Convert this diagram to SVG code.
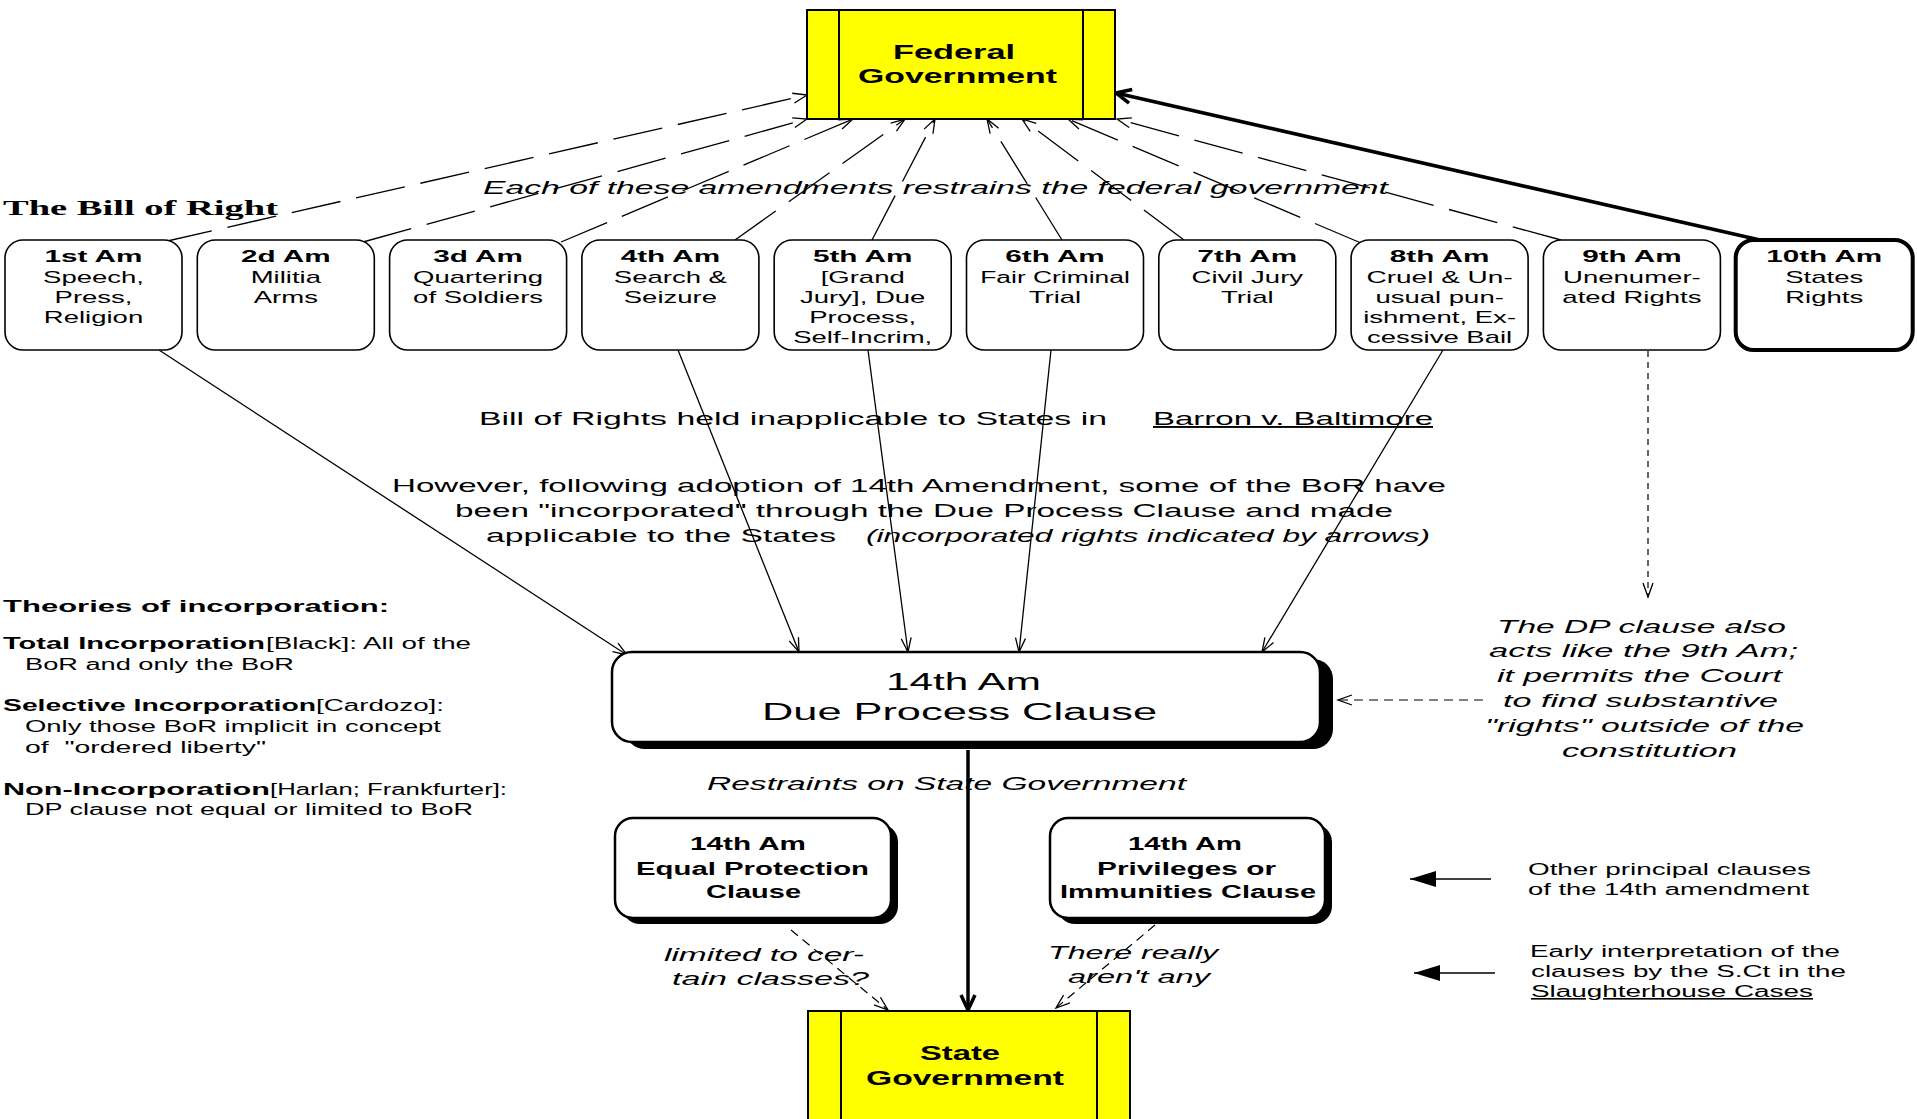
<svg xmlns="http://www.w3.org/2000/svg" width="1917" height="1119" viewBox="0 0 1917 1119">
<style>
  text { font-family: "Liberation Sans", Arial, sans-serif; fill:#000; }
  .c { text-anchor: middle; }
  .b { font-weight: bold; }
  .i { font-style: italic; }
  .am { fill:#fff; stroke:#000; stroke-width:1.6; }
  .am10 { fill:#fff; stroke:#000; stroke-width:4; }
  .gov { fill:#ffff00; stroke:#000; stroke-width:2; }
  .gl { stroke:#000; stroke-width:2; }
  .shadow { fill:#000; }
  .cl { fill:#fff; stroke:#000; stroke-width:2.5; }
  .ttl { font-size:16.5px; font-weight:bold; }
  .bd { font-size:16px; }
  .dfed { stroke:#000; stroke-width:1.3; fill:none; stroke-dasharray:50 16; marker-end:url(#open); }
  .inc { stroke:#000; stroke-width:1.3; fill:none; marker-end:url(#open); }
  .dot { stroke:#000; stroke-width:1.2; fill:none; stroke-dasharray:6 5; marker-end:url(#open); }
  .dsh { stroke:#000; stroke-width:1.2; fill:none; stroke-dasharray:9 6; marker-end:url(#open); }
  .thick { stroke:#000; stroke-width:3.5; fill:none; marker-end:url(#thickv); }
  .leg { stroke:#000; stroke-width:1.5; fill:none; marker-end:url(#tri); }
</style>
<defs>
  <marker id="open" markerUnits="userSpaceOnUse" markerWidth="16" markerHeight="12" refX="14" refY="5" orient="auto" overflow="visible">
    <path d="M0,0 L14,5 L0,10" fill="none" stroke="#000" stroke-width="1.3"/>
  </marker>
  <marker id="thickv" markerUnits="userSpaceOnUse" markerWidth="20" markerHeight="16" refX="15" refY="7" orient="auto" overflow="visible">
    <path d="M0,0 L15,7 L0,14" fill="none" stroke="#000" stroke-width="3.5"/>
  </marker>
  <marker id="tri" markerUnits="userSpaceOnUse" markerWidth="28" markerHeight="18" refX="26" refY="8" orient="auto" overflow="visible">
    <path d="M0,0 L26,8 L0,16 Z" fill="#000"/>
  </marker>
</defs>

<g id="connectors">
  <line class="dfed" x1="163" y1="242" x2="807" y2="95"/>
  <line class="dfed" x1="363" y1="242" x2="807" y2="119"/>
  <line class="dfed" x1="561" y1="242" x2="853" y2="119"/>
  <line class="dfed" x1="735" y1="240" x2="905" y2="119"/>
  <line class="dfed" x1="872" y1="240" x2="935" y2="119"/>
  <line class="dfed" x1="1062" y1="240" x2="987" y2="119"/>
  <line class="dfed" x1="1184" y1="240" x2="1022" y2="119"/>
  <line class="dfed" x1="1361" y1="243" x2="1068" y2="119"/>
  <line class="dfed" x1="1561" y1="240" x2="1117" y2="119"/>
  <line class="thick" x1="1760" y1="240" x2="1116" y2="93"/>
  <line class="inc" x1="159" y1="350" x2="627" y2="655"/>
  <line class="inc" x1="678" y1="350" x2="799" y2="652"/>
  <line class="inc" x1="868" y1="350" x2="908" y2="652"/>
  <line class="inc" x1="1051" y1="350" x2="1019" y2="652"/>
  <line class="inc" x1="1443" y1="350" x2="1262" y2="652"/>
  <line class="dot" x1="1648" y1="351" x2="1648" y2="597"/>
  <line class="dsh" x1="1483" y1="700" x2="1338" y2="700"/>
  <line class="thick" x1="968" y1="750" x2="968" y2="1010"/>
  <line class="dsh" x1="791" y1="930" x2="888" y2="1010"/>
  <line class="dsh" x1="1155" y1="925" x2="1056" y2="1008"/>
  <line class="leg" x1="1491" y1="879" x2="1410" y2="879"/>
  <line class="leg" x1="1495" y1="973" x2="1414" y2="973"/>
</g>

<g id="federal">
  <rect class="gov" x="807" y="10" width="308" height="109"/>
  <line class="gl" x1="839" y1="10" x2="839" y2="119"/>
  <line class="gl" x1="1083" y1="10" x2="1083" y2="119"/>
  <text class="b" x="893" y="59" font-size="20" textLength="122" lengthAdjust="spacingAndGlyphs">Federal</text>
  <text class="b" x="858" y="83" font-size="20" textLength="199" lengthAdjust="spacingAndGlyphs">Government</text>
</g>

<g id="state">
  <rect class="gov" x="808" y="1011" width="322" height="120"/>
  <line class="gl" x1="841" y1="1011" x2="841" y2="1119"/>
  <line class="gl" x1="1097" y1="1011" x2="1097" y2="1119"/>
  <text class="b" x="920" y="1060" font-size="20" textLength="80" lengthAdjust="spacingAndGlyphs">State</text>
  <text class="b" x="866" y="1085" font-size="20" textLength="198" lengthAdjust="spacingAndGlyphs">Government</text>
</g>

<g id="title-bor">
  <text x="3" y="215" font-family="Liberation Serif" font-weight="bold" font-size="22" style="font-family:'Liberation Serif',serif" textLength="275" lengthAdjust="spacingAndGlyphs">The Bill of Right</text>
</g>

<g id="caption-top">
  <text class="i" x="483" y="194" font-size="19" textLength="905" lengthAdjust="spacingAndGlyphs">Each of these amendments restrains the federal government</text>
</g>

<g id="am1">
  <rect class="am" x="5" y="240" width="177" height="110" rx="18"/>
  <text class="c ttl" transform="translate(93.5,262) scale(1.8,1)">1st Am</text>
  <text class="c bd" transform="translate(93.5,282.5) scale(1.72,1)">Speech,</text>
  <text class="c bd" transform="translate(93.5,302.5) scale(1.72,1)">Press,</text>
  <text class="c bd" transform="translate(93.5,322.5) scale(1.72,1)">Religion</text>
</g>
<g id="am2">
  <rect class="am" x="197.3" y="240" width="177" height="110" rx="18"/>
  <text class="c ttl" transform="translate(285.8,262) scale(1.8,1)">2d Am</text>
  <text class="c bd" transform="translate(285.8,282.5) scale(1.72,1)">Militia</text>
  <text class="c bd" transform="translate(285.8,302.5) scale(1.72,1)">Arms</text>
</g>
<g id="am3">
  <rect class="am" x="389.6" y="240" width="177" height="110" rx="18"/>
  <text class="c ttl" transform="translate(478.1,262) scale(1.8,1)">3d Am</text>
  <text class="c bd" transform="translate(478.1,282.5) scale(1.72,1)">Quartering</text>
  <text class="c bd" transform="translate(478.1,302.5) scale(1.72,1)">of Soldiers</text>
</g>
<g id="am4">
  <rect class="am" x="581.9" y="240" width="177" height="110" rx="18"/>
  <text class="c ttl" transform="translate(670.4,262) scale(1.8,1)">4th Am</text>
  <text class="c bd" transform="translate(670.4,282.5) scale(1.72,1)">Search &amp;</text>
  <text class="c bd" transform="translate(670.4,302.5) scale(1.72,1)">Seizure</text>
</g>
<g id="am5">
  <rect class="am" x="774.2" y="240" width="177" height="110" rx="18"/>
  <text class="c ttl" transform="translate(862.7,262) scale(1.8,1)">5th Am</text>
  <text class="c bd" transform="translate(862.7,282.5) scale(1.72,1)">[Grand</text>
  <text class="c bd" transform="translate(862.7,302.5) scale(1.72,1)">Jury], Due</text>
  <text class="c bd" transform="translate(862.7,322.5) scale(1.72,1)">Process,</text>
  <text class="c bd" transform="translate(862.7,342.5) scale(1.72,1)">Self-Incrim,</text>
</g>
<g id="am6">
  <rect class="am" x="966.5" y="240" width="177" height="110" rx="18"/>
  <text class="c ttl" transform="translate(1055,262) scale(1.8,1)">6th Am</text>
  <text class="c bd" transform="translate(1055,282.5) scale(1.65,1)">Fair Criminal</text>
  <text class="c bd" transform="translate(1055,302.5) scale(1.72,1)">Trial</text>
</g>
<g id="am7">
  <rect class="am" x="1158.8" y="240" width="177" height="110" rx="18"/>
  <text class="c ttl" transform="translate(1247.3,262) scale(1.8,1)">7th Am</text>
  <text class="c bd" transform="translate(1247.3,282.5) scale(1.72,1)">Civil Jury</text>
  <text class="c bd" transform="translate(1247.3,302.5) scale(1.72,1)">Trial</text>
</g>
<g id="am8">
  <rect class="am" x="1351.1" y="240" width="177" height="110" rx="18"/>
  <text class="c ttl" transform="translate(1439.6,262) scale(1.8,1)">8th Am</text>
  <text class="c bd" transform="translate(1439.6,282.5) scale(1.75,1)">Cruel &amp; Un-</text>
  <text class="c bd" transform="translate(1439.6,302.5) scale(1.72,1)">usual pun-</text>
  <text class="c bd" transform="translate(1439.6,322.5) scale(1.72,1)">ishment, Ex-</text>
  <text class="c bd" transform="translate(1439.6,342.5) scale(1.72,1)">cessive Bail</text>
</g>
<g id="am9">
  <rect class="am" x="1543.4" y="240" width="177" height="110" rx="18"/>
  <text class="c ttl" transform="translate(1631.9,262) scale(1.8,1)">9th Am</text>
  <text class="c bd" transform="translate(1631.9,282.5) scale(1.72,1)">Unenumer-</text>
  <text class="c bd" transform="translate(1631.9,302.5) scale(1.72,1)">ated Rights</text>
</g>
<g id="am10">
  <rect class="am10" x="1735.7" y="240" width="177" height="110" rx="18"/>
  <text class="c ttl" transform="translate(1824.2,262) scale(1.8,1)">10th Am</text>
  <text class="c bd" transform="translate(1824.2,282.5) scale(1.72,1)">States</text>
  <text class="c bd" transform="translate(1824.2,302.5) scale(1.72,1)">Rights</text>
</g>

<g id="barron-note">
  <text x="479" y="425" font-size="19" textLength="628" lengthAdjust="spacingAndGlyphs">Bill of Rights held inapplicable to States in</text>
  <text x="1153" y="425" font-size="19" text-decoration="underline" textLength="280" lengthAdjust="spacingAndGlyphs">Barron v. Baltimore</text>
  <text x="392" y="492" font-size="19" textLength="1054" lengthAdjust="spacingAndGlyphs">However, following adoption of 14th Amendment, some of the BoR have</text>
  <text x="455" y="517" font-size="19" textLength="938" lengthAdjust="spacingAndGlyphs">been "incorporated" through the Due Process Clause and made</text>
  <text x="486" y="542" font-size="19" textLength="350" lengthAdjust="spacingAndGlyphs">applicable to the States</text>
  <text class="i" x="866" y="542" font-size="19" textLength="564" lengthAdjust="spacingAndGlyphs">(incorporated rights indicated by arrows)</text>
</g>

<g id="theories">
  <text class="b" x="3" y="612" font-size="17" textLength="386" lengthAdjust="spacingAndGlyphs">Theories of incorporation:</text>
  <text class="b" x="3" y="649" font-size="17" textLength="262" lengthAdjust="spacingAndGlyphs">Total Incorporation</text>
  <text x="266" y="649" font-size="16" textLength="205" lengthAdjust="spacingAndGlyphs">[Black]: All of the</text>
  <text x="25" y="670" font-size="16" textLength="269" lengthAdjust="spacingAndGlyphs">BoR and only the BoR</text>
  <text class="b" x="3" y="711" font-size="17" textLength="313" lengthAdjust="spacingAndGlyphs">Selective Incorporation</text>
  <text x="316" y="711" font-size="16" textLength="128" lengthAdjust="spacingAndGlyphs">[Cardozo]:</text>
  <text x="25" y="732" font-size="16" textLength="416" lengthAdjust="spacingAndGlyphs">Only those BoR implicit in concept</text>
  <text x="25" y="753" font-size="16" textLength="241" lengthAdjust="spacingAndGlyphs" xml:space="preserve">of  "ordered liberty"</text>
  <text class="b" x="3" y="795" font-size="17" textLength="267" lengthAdjust="spacingAndGlyphs">Non-Incorporation</text>
  <text x="270" y="795" font-size="16" textLength="237" lengthAdjust="spacingAndGlyphs">[Harlan; Frankfurter]:</text>
  <text x="25" y="815" font-size="16" textLength="448" lengthAdjust="spacingAndGlyphs">DP clause not equal or limited to BoR</text>
</g>

<g id="dp-clause">
  <rect class="shadow" x="625" y="659" width="708" height="90" rx="20"/>
  <rect class="cl" x="612" y="652" width="708" height="90" rx="20"/>
  <text x="886" y="690" font-size="23" textLength="155" lengthAdjust="spacingAndGlyphs">14th Am</text>
  <text x="762" y="720" font-size="23" textLength="395" lengthAdjust="spacingAndGlyphs">Due Process Clause</text>
</g>

<g id="dp-note">
  <text class="i" x="1497" y="633" font-size="18" textLength="289" lengthAdjust="spacingAndGlyphs">The DP clause also</text>
  <text class="i" x="1489" y="657" font-size="18" textLength="309" lengthAdjust="spacingAndGlyphs">acts like the 9th Am;</text>
  <text class="i" x="1497" y="682" font-size="18" textLength="285" lengthAdjust="spacingAndGlyphs">it permits the Court</text>
  <text class="i" x="1503" y="707" font-size="18" textLength="275" lengthAdjust="spacingAndGlyphs">to find substantive</text>
  <text class="i" x="1485" y="732" font-size="18" textLength="319" lengthAdjust="spacingAndGlyphs">"rights" outside of the</text>
  <text class="i" x="1562" y="757" font-size="18" textLength="175" lengthAdjust="spacingAndGlyphs">constitution</text>
</g>

<g id="restraints-label">
  <text class="i" x="707" y="790" font-size="19" textLength="479" lengthAdjust="spacingAndGlyphs">Restraints on State Government</text>
</g>

<g id="equal-protection">
  <rect class="shadow" x="622" y="824" width="276" height="100" rx="18"/>
  <rect class="cl" x="615" y="818" width="276" height="100" rx="18"/>
  <text class="b" x="690" y="850" font-size="18" textLength="116" lengthAdjust="spacingAndGlyphs">14th Am</text>
  <text class="b" x="636" y="875" font-size="18" textLength="233" lengthAdjust="spacingAndGlyphs">Equal Protection</text>
  <text class="b" x="706" y="898" font-size="18" textLength="95" lengthAdjust="spacingAndGlyphs">Clause</text>
</g>

<g id="privileges">
  <rect class="shadow" x="1057" y="824" width="275" height="100" rx="18"/>
  <rect class="cl" x="1050" y="818" width="275" height="100" rx="18"/>
  <text class="b" x="1128" y="850" font-size="18" textLength="114" lengthAdjust="spacingAndGlyphs">14th Am</text>
  <text class="b" x="1097" y="875" font-size="18" textLength="179" lengthAdjust="spacingAndGlyphs">Privileges or</text>
  <text class="b" x="1060" y="898" font-size="18" textLength="256" lengthAdjust="spacingAndGlyphs">Immunities Clause</text>
</g>

<g id="slaughter-labels">
  <text class="i" x="664" y="961" font-size="19" textLength="200" lengthAdjust="spacingAndGlyphs">limited to cer-</text>
  <text class="i" x="672" y="985" font-size="19" textLength="197" lengthAdjust="spacingAndGlyphs">tain classes?</text>
  <text class="i" x="1048" y="959" font-size="19" textLength="170" lengthAdjust="spacingAndGlyphs">There really</text>
  <text class="i" x="1068" y="983" font-size="19" textLength="142" lengthAdjust="spacingAndGlyphs">aren't any</text>
</g>

<g id="legend">
  <text x="1528" y="875" font-size="16" textLength="283" lengthAdjust="spacingAndGlyphs">Other principal clauses</text>
  <text x="1528" y="895" font-size="16" textLength="281" lengthAdjust="spacingAndGlyphs">of the 14th amendment</text>
  <text x="1530" y="957" font-size="16" textLength="310" lengthAdjust="spacingAndGlyphs">Early interpretation of the</text>
  <text x="1531" y="977" font-size="16" textLength="315" lengthAdjust="spacingAndGlyphs">clauses by the S.Ct in the</text>
  <text x="1531" y="997" font-size="16" text-decoration="underline" textLength="282" lengthAdjust="spacingAndGlyphs">Slaughterhouse Cases</text>
</g>
</svg>
